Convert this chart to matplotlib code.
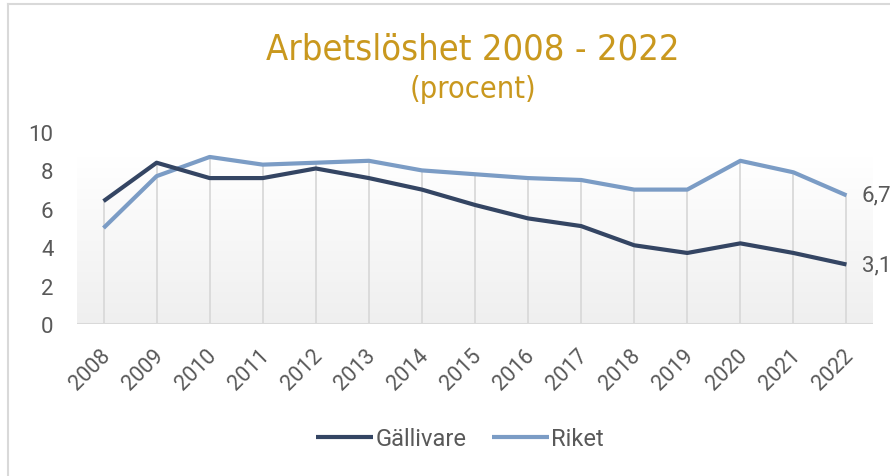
import matplotlib
matplotlib.use("Agg")
import matplotlib.pyplot as plt
import matplotlib.transforms as mtransforms
import numpy as np
from matplotlib import font_manager
from matplotlib.lines import Line2D

years = ["2008", "2009", "2010", "2011", "2012", "2013", "2014", "2015",
         "2016", "2017", "2018", "2019", "2020", "2021", "2022"]
gallivare = [6.4, 8.4, 7.6, 7.6, 8.1, 7.6, 7.0, 6.2, 5.5, 5.1, 4.1, 3.7, 4.2, 3.7, 3.1]
riket = [5.0, 7.7, 8.7, 8.3, 8.4, 8.5, 8.0, 7.8, 7.6, 7.5, 7.0, 7.0, 8.5, 7.9, 6.7]
yticks = [0, 2, 4, 6, 8, 10]
series_names = ["Gällivare", "Riket"]
end_labels = ["3,1", "6,7"]

W, H = 890, 477
fig = plt.figure(figsize=(W / 100, H / 100), dpi=100)
fig.patch.set_facecolor("white")

names = {f.name for f in font_manager.fontManager.ttflist}
light = "Roboto" if "Roboto" in names else "DejaVu Sans"
txt_color = "#595959"
wt = "normal"

# border
fig.add_artist(Line2D([8 / W, 8 / W], [0, 1 - 5 / H], color="#d9d9d9", lw=1.5))
fig.add_artist(Line2D([8 / W, 1], [1 - 5 / H, 1 - 5 / H], color="#d9d9d9", lw=1.5))

left, right = 77 / W, 873 / W
bottom, top = 1 - 325 / H, 1 - 133 / H
ax = fig.add_axes([left, bottom, right - left, top - bottom])
ax.set_xlim(-0.5, len(years) - 0.5)
ax.set_ylim(0, 10)
for s in ax.spines.values():
    s.set_visible(False)
ax.patch.set_alpha(0)

x = np.arange(len(years))
cmap = matplotlib.colors.LinearSegmentedColormap.from_list("g", ["#efefef", "#ffffff"])
ax.imshow(np.linspace(0, 1, 256).reshape(-1, 1), extent=(-0.5, len(years) - 0.5, 0, 8.65),
          aspect="auto", cmap=cmap, origin="lower", zorder=0, vmin=0, vmax=1)

tops = np.maximum(gallivare, riket)
ax.vlines(x, 0, tops, color="#d9d9d9", lw=1.3, zorder=1)
ax.axhline(0, color="#d9d9d9", lw=2.2, zorder=1)

c_g, c_r = "#344563", "#7b9cc5"
lg, = ax.plot(x, gallivare, color=c_g, lw=3.0, zorder=3, label=series_names[0], solid_capstyle="butt")
lr, = ax.plot(x, riket, color=c_r, lw=3.0, zorder=2, label=series_names[1], solid_capstyle="butt")

for val, lab in zip([gallivare[-1], riket[-1]], end_labels):
    ax.annotate(lab, (x[-1], val), xytext=(11, 0), textcoords="offset points",
                va="center", ha="left", fontsize=16, color=txt_color,
                family=light, fontweight=wt, annotation_clip=False)

ax.set_yticks(yticks)
ax.set_xticks(x)
ax.set_xticklabels(years, rotation=45, ha="right", va="top", rotation_mode="anchor")
ax.tick_params(axis="both", length=0, labelcolor=txt_color)
ax.tick_params(axis="y", pad=17, labelsize=16)
ax.tick_params(axis="x", pad=15, labelsize=15.5)
shift = mtransforms.ScaledTranslation(-4 / 100, 0, fig.dpi_scale_trans)
for t in ax.get_xticklabels():
    t.set_transform(t.get_transform() + shift)
for t in ax.get_xticklabels() + ax.get_yticklabels():
    t.set_family(light)
    t.set_fontweight(wt)

fig.text(473 / W, 1 - 50 / H, "Arbetslöshet 2008 - 2022", ha="center", va="center",
         fontsize=26, color="#c9981e", family="DejaVu Sans", fontstretch="condensed")
fig.text(473 / W, 1 - 90 / H, "(procent)", ha="center", va="center",
         fontsize=22, color="#c9981e", family="DejaVu Sans", fontstretch="condensed")

leg = fig.legend(handles=[lg, lr], loc="center", bbox_to_anchor=(460 / W, 1 - 440 / H),
                 ncol=2, frameon=False, handlelength=2.4, handletextpad=0.1,
                 columnspacing=1.1, prop={"family": light, "weight": wt, "size": 17})
for t in leg.get_texts():
    t.set_color(txt_color)

fig.savefig("out.png", dpi=100)
